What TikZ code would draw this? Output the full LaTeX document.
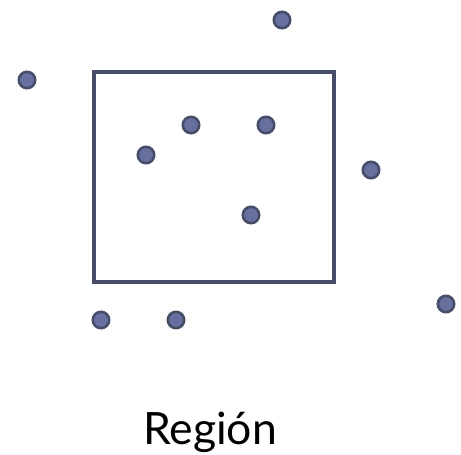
\documentclass[tikz,border=0pt]{standalone}
\usepackage{fontspec}
\setmainfont{Lato}
\definecolor{edgeblue}{HTML}{474C68}
\definecolor{dotfill}{HTML}{6870A0}

\begin{document}
\begin{tikzpicture}[x=0.03cm,y=-0.03cm,
  pt/.style={circle,draw=edgeblue,fill=dotfill,line width=2.2pt,inner sep=0pt,minimum size=14pt},
  region/.style={draw=edgeblue,line width=2.6pt}]
\useasboundingbox (0,0) rectangle (461,454);
\draw[region] (94,72) rectangle (334,282);

\node[pt] (P0) at (282,20) {};
\node[pt] (P1) at (27,80) {};
\node[pt] (P2) at (191,125) {};
\node[pt] (P3) at (266,125) {};
\node[pt] (P4) at (146,155) {};
\node[pt] (P5) at (371,170) {};
\node[pt] (P6) at (251,215) {};
\node[pt] (P7) at (446,304) {};
\node[pt] (P8) at (101,320) {};
\node[pt] (P9) at (176,320) {};

\node[font=\fontsize{38}{42}\selectfont] (lbl) at (210,432) {Región};
\end{tikzpicture}
\end{document}
